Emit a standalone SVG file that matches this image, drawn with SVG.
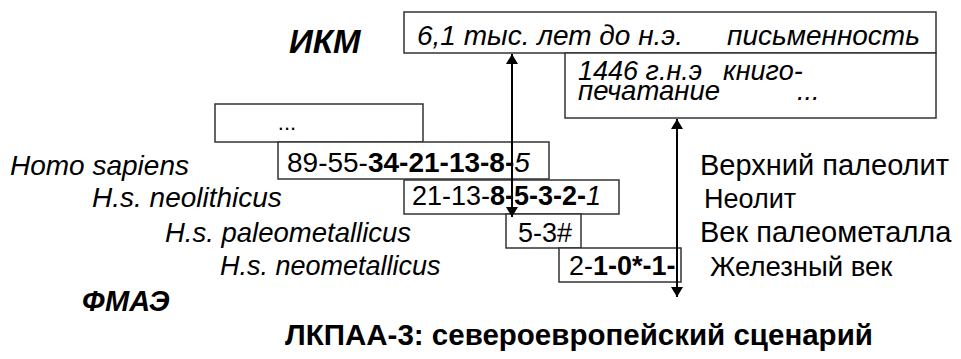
<svg xmlns="http://www.w3.org/2000/svg" width="961" height="359" viewBox="0 0 961 359">
<style>
.box{fill:#fff;stroke:#333;stroke-width:1.5}
.t{font-family:"Liberation Sans",Arial,sans-serif;fill:#000}
.i{font-style:italic}
.b{font-weight:bold}
.con{stroke:#000;stroke-width:2;fill:none}
</style>
<defs>
<marker id="ah" viewBox="0 0 10 12" refX="10" refY="6" markerWidth="10" markerHeight="12" markerUnits="userSpaceOnUse" orient="auto-start-reverse">
<path d="M0,0 L10,6 L0,12 Z" fill="#000"/>
</marker>
</defs>
<rect width="961" height="359" fill="#fff"/>

<g id="ikm-label"><text class="t i b" x="289" y="53" font-size="33">ИКМ</text></g>
<g id="fmae-label"><text class="t i b" x="82" y="311" font-size="29">ФМАЭ</text></g>

<g id="writing">
<rect class="box" x="404" y="12" width="532" height="41"/>
<text class="t i" x="417" y="45" font-size="28">6,1 тыс. лет до н.э.</text>
<text class="t i" x="727" y="45" font-size="28">письменность</text>
</g>
<g id="printing">
<rect class="box" x="565" y="53" width="371" height="65"/>
<text class="t i" x="578" y="80" font-size="27">1446 г.н.э<tspan x="723">книго-</tspan></text>
<text class="t i" x="578" y="100" font-size="27.5">печатание</text>
<text class="t i" x="797" y="100" font-size="27">...</text>
</g>

<g id="dots">
<rect class="box" x="215" y="104" width="208" height="38"/>
<text class="t" x="287" y="130" font-size="22" text-anchor="middle">...</text>
</g>
<g id="homo-sapiens">
<rect class="box" x="278" y="142" width="271" height="37"/>
<text class="t" x="287" y="172" font-size="28">89-55-<tspan class="b">34-21-13-8-</tspan><tspan class="i">5</tspan></text>
<text class="t i" x="10" y="175" font-size="28">Homo sapiens</text>
<text class="t" x="700" y="175" font-size="29">Верхний палеолит</text>
</g>
<g id="neolithicus">
<rect class="box" x="404" y="180" width="215" height="34"/>
<text class="t" x="412" y="205" font-size="27">21-13-<tspan class="b">8-5-3-2-</tspan><tspan class="i">1</tspan></text>
<text class="t i" x="92" y="207" font-size="28">H.s. neolithicus</text>
<text class="t" x="704" y="208" font-size="27">Неолит</text>
</g>
<g id="paleometallicus">
<rect class="box" x="506" y="214" width="75" height="34"/>
<text class="t" x="518" y="242" font-size="27">5-3#</text>
<text class="t i" x="165" y="242" font-size="27.5">H.s. paleometallicus</text>
<text class="t" x="700" y="242" font-size="29">Век палеометалла</text>
</g>
<g id="neometallicus">
<rect class="box" x="559" y="248" width="122" height="34"/>
<text class="t" x="569" y="275" font-size="27">2-<tspan class="b">1-0*-1-</tspan></text>
<text class="t i" x="220" y="275" font-size="27">H.s. neometallicus</text>
<text class="t" x="710" y="276" font-size="27.5">Железный век</text>
</g>

<g id="connectors">
<line class="con" x1="512" y1="54" x2="512" y2="217" marker-start="url(#ah)" marker-end="url(#ah)"/>
<line class="con" x1="677" y1="119" x2="677" y2="297" marker-start="url(#ah)" marker-end="url(#ah)"/>
</g>

<g id="title"><text class="t b" x="579" y="345" font-size="29.5" text-anchor="middle">ЛКПАА-3: североевропейский сценарий</text></g>
</svg>
